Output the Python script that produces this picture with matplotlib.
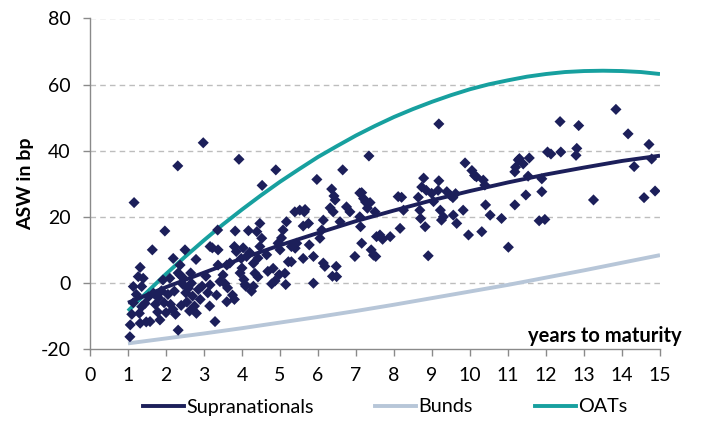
import matplotlib
matplotlib.use("Agg")
import matplotlib.pyplot as plt
from matplotlib.lines import Line2D

plt.rcParams['font.family'] = ['Lato', 'DejaVu Sans']
plt.rcParams['axes.unicode_minus'] = False

# ---- data ----
scatter_x = [
    1.05, 1.06, 1.10, 1.14, 1.14, 1.16, 1.22, 1.27, 1.30, 1.32, 1.32, 1.36, 1.36, 1.40, 1.45,
    1.48, 1.54, 1.58, 1.64, 1.67, 1.72, 1.78, 1.80, 1.84, 1.88, 1.92, 1.95, 1.97, 2.00,
    2.05, 2.10, 2.12, 2.18, 2.19, 2.22, 2.25, 2.31, 2.32, 2.32, 2.37, 2.37, 2.40, 2.45, 2.46,
    2.50, 2.52, 2.55, 2.59, 2.62, 2.65, 2.67, 2.70, 2.75, 2.79, 2.80, 2.85, 2.90, 2.95, 2.98,
    3.05, 3.10, 3.15, 3.16, 3.16, 3.22, 3.29, 3.33, 3.36, 3.37, 3.37, 3.42, 3.50, 3.55, 3.60,
    3.60, 3.62, 3.68, 3.75, 3.80, 3.80, 3.82, 3.85, 3.92, 3.95, 3.98, 4.00,
    4.03, 4.05, 4.08, 4.10, 4.12, 4.17, 4.20, 4.25, 4.30, 4.30, 4.34, 4.39, 4.42, 4.42, 4.47,
    4.47, 4.52, 4.53, 4.65, 4.68, 4.78, 4.82, 4.87, 4.89, 4.95, 4.98, 5.00, 5.04,
    5.08, 5.13, 5.15, 5.17, 5.22, 5.30, 5.30, 5.39, 5.40, 5.44, 5.52, 5.61, 5.61, 5.64, 5.66,
    5.75, 5.77, 5.88, 5.88, 5.97,
    6.05, 6.10, 6.14, 6.14, 6.18, 6.32, 6.36, 6.38, 6.40, 6.42, 6.45, 6.48, 6.49, 6.58, 6.65,
    6.75, 6.84, 6.97,
    7.10, 7.10, 7.12, 7.15, 7.15, 7.20, 7.25, 7.30, 7.34, 7.37, 7.40, 7.46, 7.50, 7.52, 7.54,
    7.63, 7.70, 7.90,
    8.11, 8.16, 8.20, 8.25, 8.64, 8.68, 8.70, 8.73, 8.78, 8.82, 8.85, 8.90, 8.99, 9.04,
    9.16, 9.18, 9.18, 9.22, 9.25, 9.30, 9.39, 9.48, 9.55, 9.56, 9.62, 9.65, 9.82, 9.87, 9.96,
    10.05, 10.12, 10.17,
    10.31, 10.35, 10.39, 10.41, 10.53, 10.83, 11.01,
    11.18, 11.18, 11.20, 11.27, 11.30, 11.40, 11.47, 11.53, 11.56, 11.82, 11.89, 11.89, 11.97,
    12.04, 12.13, 12.37, 12.39, 12.79, 12.81, 12.86, 13.25, 13.84, 14.16, 14.32, 14.58, 14.71,
    14.78, 14.87,
]
scatter_y = [
    -16.3, -12.7, -9.5, -6.0, -1.1, 24.3, -3.5, 1.9, -9.2, -12.2, 4.7, -7.2, -1.1, 1.4, -6.2,
    -11.8, -4.2, -11.7, 10.0, -3.1, -6.5, -8.8, -4.5, -11.2, -2.4, 0.9, -6.0, 15.7, -9.0,
    -3.5, 1.4, -6.5, -8.0, 7.4, -2.5, -9.5, 35.4, 3.0, -14.3, 5.4, 2.4, -6.8, -0.5, 1.4,
    10.0, -3.0, -5.8, -1.6, -8.5, 3.0, -0.1, -4.0, -7.0, 7.1, -9.2, -2.0, -5.0, -1.0, 42.4,
    2.0, -3.0, -7.0, 11.0, -0.6, 10.6, -11.7, -3.7, 16.0, 10.0, 5.4, 0.4, 2.4, -0.2, 5.4,
    -5.7, -1.5, 6.0, -3.7, 11.0, -5.0, 15.7, 9.5, 37.4, 3.0, 7.4, 4.5,
    10.6, 1.0, -0.5, -1.0, 8.0, 15.8, 9.2, -2.5, 5.9, -1.0, 2.9, 15.5, 7.5, 1.8, 18.0,
    11.0, 13.5, 29.5, 8.5, 3.5, -0.3, 4.4, 0.6, 34.2, 12.0, 2.5, 10.0, 13.6,
    16.0, 2.9, -0.5, 18.5, 6.4, 11.0, 6.4, 21.5, 10.5, 12.0, 22.0, 17.2, 7.4, 21.5, 22.2,
    18.0, 11.5, 8.0, -0.1, 31.3,
    13.5, 16.0, 19.0, 6.0, 5.0, 22.7, 28.4, 2.0, 21.5, 26.3, 25.1, 5.0, 1.9, 18.5, 34.2,
    23.0, 21.5, 8.0,
    20.0, 27.2, 17.0, 27.3, 12.0, 25.5, 24.5, 22.6, 38.4, 24.3, 10.0, 8.4, 21.5, 8.0, 14.0,
    14.5, 13.2, 14.0,
    26.1, 16.5, 25.9, 22.0, 25.9, 22.0, 19.5, 29.0, 31.7, 17.0, 28.0, 8.2, 27.1, 24.6,
    28.0, 48.1, 30.9, 22.0, 19.0, 20.0, 27.6, 26.5, 25.8, 20.5, 27.0, 18.0, 22.0, 36.3, 14.5,
    34.0, 32.5, 32.1,
    15.5, 31.1, 29.6, 23.6, 20.5, 19.5, 10.8,
    23.6, 33.6, 35.0, 37.2, 37.6, 36.0, 26.6, 32.3, 37.8, 18.8, 31.5, 27.6, 19.2,
    39.6, 39.0, 48.8, 39.6, 38.6, 40.7, 47.6, 25.1, 52.5, 45.1, 35.2, 25.8, 41.9,
    37.5, 27.8,
]

curve_x = [1, 2, 3, 4, 5, 6, 7, 8, 9, 10, 11, 12, 13, 14, 15]
supra_y = [-6.0, -1.3, 3.1, 7.4, 11.4, 15.1, 18.7, 21.9, 25.0, 27.8, 30.4, 32.8, 34.9, 36.9, 38.5]
bunds_y = [-18.3, -16.8, -15.3, -13.7, -12.0, -10.3, -8.5, -6.6, -4.6, -2.6, -0.6, 1.6, 3.8, 6.1, 8.4]
oat_x = [1, 1.5, 2, 2.5, 3, 3.5, 4, 4.5, 5, 5.5, 6, 6.5, 7, 7.5, 8, 8.5, 9, 9.5, 10,
         10.5, 11, 11.5, 12, 12.5, 13, 13.5, 14, 14.5, 15]
oat_y = [-8.5, -2.8, 2.7, 7.9, 12.9, 17.7, 22.2, 26.5, 30.6, 34.4, 38.1, 41.4, 44.6,
         47.5, 50.2, 52.6, 54.8, 56.8, 58.6, 60.1, 61.3, 62.4, 63.2, 63.8, 64.1, 64.2,
         64.1, 63.8, 63.2]

series_names = ['Supranationals', 'Bunds', 'OATs']
x_ticks = list(range(0, 16))
y_ticks = [-20, 0, 20, 40, 60, 80]

NAVY = '#1c1f5a'
BUNDS = '#b7c6d8'
OAT = '#17a09f'
GRID = '#bdbdbd'
AXIS = '#8a8a8a'

fig = plt.figure(figsize=(7.02, 4.21), dpi=100)
ax = fig.add_axes([90/702, 1-349/421, 570/702, (349-18.5)/421])

for yv in y_ticks[1:]:
    ax.axhline(yv, color=GRID, lw=1.0, ls=(0, (4, 3)), zorder=0)

ax.plot(curve_x, bunds_y, color=BUNDS, lw=2.8, zorder=2, solid_capstyle='butt')
ax.plot(oat_x, oat_y, color=OAT, lw=2.8, zorder=2, solid_capstyle='butt')
ax.scatter(scatter_x, scatter_y, marker='D', s=32, color=NAVY, edgecolors='none', zorder=3)
ax.plot(curve_x, supra_y, color=NAVY, lw=2.8, zorder=4, solid_capstyle='butt')

ax.set_xlim(0, 15)
ax.set_ylim(-20, 80)
ax.set_xticks(x_ticks)
ax.set_yticks(y_ticks)
for s in ['top', 'right']:
    ax.spines[s].set_visible(False)
for s in ['left', 'bottom']:
    ax.spines[s].set_color(AXIS)
    ax.spines[s].set_linewidth(1.0)
ax.tick_params(axis='both', colors=AXIS, length=5, width=1.0, labelcolor='black', labelsize=14)
ax.tick_params(axis='x', pad=8)
ax.tick_params(axis='y', pad=9)

ax.set_ylabel('ASW in bp', fontsize=14, fontweight='bold', labelpad=5)
ax.text(682/702, 1-336/421, 'years to maturity', transform=fig.transFigure,
        ha='right', va='center', fontsize=14.5, fontweight='bold')

colors = [NAVY, BUNDS, OAT]
starts = [143, 375, 535]
for name, col, sx in zip(series_names, colors, starts):
    h = Line2D([0], [0], color=col, lw=2.8)
    fig.legend([h], [name], loc='center left', bbox_to_anchor=(sx/702, 1-407/421),
               frameon=False, fontsize=14.2, handlelength=2.1, handletextpad=0.1,
               borderpad=0, borderaxespad=0)

fig.savefig('out.png', dpi=100)
